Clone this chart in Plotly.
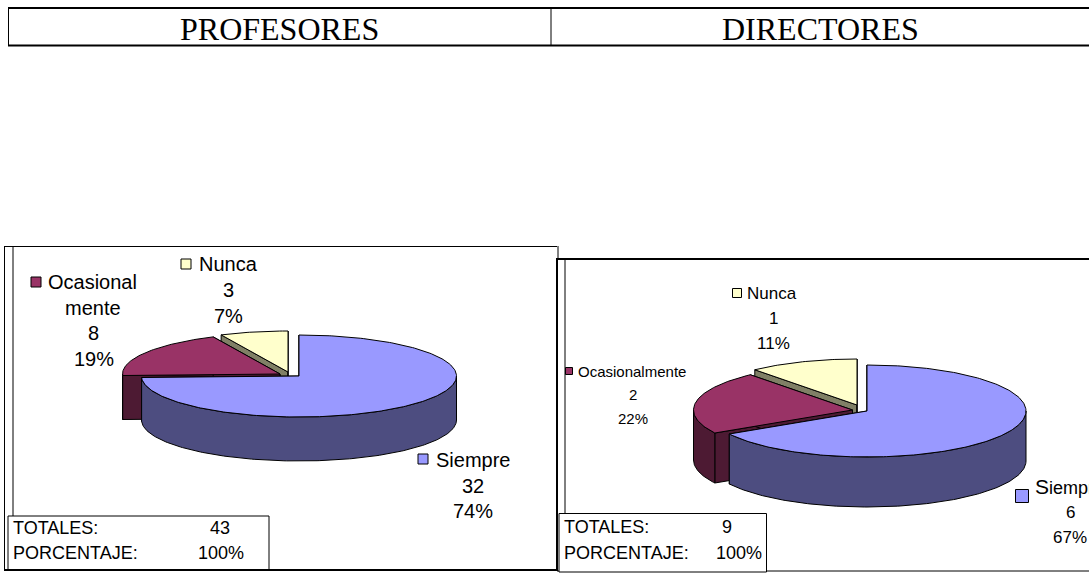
"""Two exploded 3D-style pies (profesores / directores) on a page-sized pixel canvas."""

import numpy as np
import plotly.graph_objects as go

WIDTH = 1089
HEIGHT = 573

CATEGORIES = ["Siempre", "Ocasionalmente", "Nunca"]
PROFESORES = [32, 8, 3]
DIRECTORES = [6, 2, 1]
HEADERS = ["PROFESORES", "DIRECTORES"]

TOP_COLORS = ["#9999FF", "#993366", "#FFFFCC"]
SIDE_COLORS = ["#4D4D80", "#4D1A33", "#808066"]

SANS = "Liberation Sans, Arial, sans-serif"
SERIF = "Liberation Serif, Times New Roman, serif"


def pct(values, i):
    return f"{round(100 * values[i] / sum(values))}%"


def ring(cx, cy, rx, ry, start, end):
    """Points along the ellipse, angles in degrees clockwise from 12 o'clock."""
    t = np.radians(np.linspace(start, end, max(int(abs(end - start)), 2) + 1))
    return cx + rx * np.sin(t), cy - ry * np.cos(t)


def poly(fig, xs, ys, color):
    fig.add_trace(
        go.Scatter(
            x=np.append(xs, xs[0]),
            y=np.append(ys, ys[0]),
            mode="lines",
            fill="toself",
            fillcolor=color,
            line={"color": "black", "width": 1},
            hoverinfo="skip",
            showlegend=False,
        )
    )


def draw_pie(fig, values, apexes, rx, ry, depth):
    """Draw slices back to front: walls, then rim, then top face."""
    total = sum(values)
    edges = np.concatenate([[0], np.cumsum(values) / total * 360])
    for i in reversed(range(len(values))):
        cx, cy = apexes[i]
        start, end = edges[i], edges[i + 1]
        for angle in (start, end):
            x, y = ring(cx, cy, rx, ry, angle, angle)
            x, y = x[0], y[0]
            poly(
                fig,
                np.array([x, cx, cx, x]),
                np.array([y, cy, cy + depth, y + depth]),
                SIDE_COLORS[i],
            )
        lo, hi = max(start, 90), min(end, 270)
        if hi > lo:
            x, y = ring(cx, cy, rx, ry, lo, hi)
            poly(
                fig,
                np.concatenate([x, x[::-1]]),
                np.concatenate([y, y[::-1] + depth]),
                SIDE_COLORS[i],
            )
        x, y = ring(cx, cy, rx, ry, start, end)
        poly(fig, np.append(x, cx), np.append(y, cy), TOP_COLORS[i])


def label(fig, x, y, text, size, family=SANS, anchor="center"):
    fig.add_annotation(
        x=x,
        y=y,
        text=text,
        showarrow=False,
        xanchor=anchor,
        yanchor="middle",
        align="center",
        font={"family": family, "size": size, "color": "black"},
    )


def line(fig, x0, y0, x1, y1, width=1):
    fig.add_shape(
        type="line",
        x0=x0,
        y0=y0,
        x1=x1,
        y1=y1,
        line={"color": "black", "width": width},
    )


def box(fig, x0, y0, x1, y1):
    fig.add_shape(
        type="rect",
        x0=x0,
        y0=y0,
        x1=x1,
        y1=y1,
        fillcolor="white",
        line={"color": "black", "width": 1},
    )


def key(fig, x, y, i, size):
    fig.add_trace(
        go.Scatter(
            x=[x],
            y=[y],
            mode="markers",
            marker={
                "symbol": "square",
                "size": size,
                "color": TOP_COLORS[i],
                "line": {"color": "black", "width": 1},
            },
            hoverinfo="skip",
            showlegend=False,
        )
    )


fig = go.Figure()

# frames behind the pies
line(fig, 8, 8, WIDTH, 8, 2)
line(fig, 8, 45.5, WIDTH, 45.5, 2)
line(fig, 8.5, 8, 8.5, 45)
line(fig, 551, 8, 551, 45)
label(fig, 279.5, 29, HEADERS[0], 32, SERIF)
label(fig, 820, 29, HEADERS[1], 32, SERIF)

line(fig, 4.5, 246.5, 557, 246.5, 1)
line(fig, 4.5, 246, 4.5, 570)
line(fig, 13, 246, 13, 516)
line(fig, 4, 570, 557, 570, 2)
line(fig, 557, 258, 557, 571, 2)
line(fig, 558, 246, 558, 259)
line(fig, 557, 259, WIDTH, 259, 2)
line(fig, 565, 259, 565, 514)
line(fig, 557, 571, WIDTH, 571, 1)

draw_pie(fig, PROFESORES, [(299, 376), (280, 374), (288, 372)], 157.5, 41, 44)
draw_pie(fig, DIRECTORES, [(867, 411), (852.5, 410), (857, 405)], 159, 46, 50)

# profesores labels
key(fig, 423, 459, 0, 10)
label(fig, 473, 460, CATEGORIES[0], 20)
label(fig, 473, 486, str(PROFESORES[0]), 20)
label(fig, 473, 511, pct(PROFESORES, 0), 20)
key(fig, 36, 282, 1, 10)
label(fig, 92, 282, "Ocasional", 20)
label(fig, 93, 308, "mente", 20)
label(fig, 93, 333, str(PROFESORES[1]), 20)
label(fig, 94, 359, pct(PROFESORES, 1), 20)
key(fig, 186, 264, 2, 10)
label(fig, 228, 264, CATEGORIES[2], 20)
label(fig, 228, 290, str(PROFESORES[2]), 20)
label(fig, 228, 316, pct(PROFESORES, 2), 20)

# directores labels
key(fig, 737, 293, 2, 9)
label(fig, 772, 293, CATEGORIES[2], 17)
label(fig, 773, 318, str(DIRECTORES[2]), 17)
label(fig, 773, 343, pct(DIRECTORES, 2), 17)
key(fig, 569, 371, 1, 7)
label(fig, 632, 371, CATEGORIES[1], 15)
label(fig, 633, 394, str(DIRECTORES[1]), 15)
label(fig, 633, 418, pct(DIRECTORES, 1), 15)
key(fig, 1022, 496, 0, 13)
label(fig, 1033, 486, '<span style="font-size:21px">S</span>iempre', 18, anchor="left")
label(fig, 1070, 512, str(DIRECTORES[0]), 17)
label(fig, 1070, 537, pct(DIRECTORES, 0), 17)

# totals tables
box(fig, 8, 516, 269, 569.5)
label(fig, 11, 528, "TOTALES:", 18, anchor="left")
label(fig, 11, 553, "PORCENTAJE:", 18, anchor="left")
label(fig, 220, 528, str(sum(PROFESORES)), 18)
label(fig, 221, 553, "100%", 18)

box(fig, 559, 513.5, 766.5, 572)
label(fig, 562, 527, "TOTALES:", 18, anchor="left")
label(fig, 562, 553, "PORCENTAJE:", 18, anchor="left")
label(fig, 727, 527, str(sum(DIRECTORES)), 18)
label(fig, 739, 553, "100%", 18)

fig.update_layout(
    width=WIDTH,
    height=HEIGHT,
    margin={"l": 0, "r": 0, "t": 0, "b": 0},
    paper_bgcolor="white",
    plot_bgcolor="white",
    showlegend=False,
    xaxis={"range": [0, WIDTH], "visible": False, "fixedrange": True},
    yaxis={"range": [HEIGHT, 0], "visible": False, "fixedrange": True},
)

fig.write_html(
    "out.html",
    config={"displayModeBar": False},
    post_script="document.body.style.margin='0';document.body.style.overflow='hidden';",
)
